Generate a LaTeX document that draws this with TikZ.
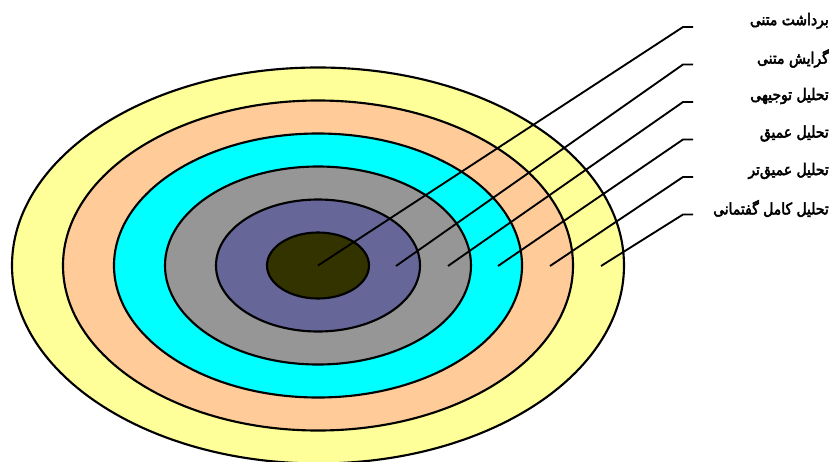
\documentclass[tikz,border=0pt]{standalone}
\usepackage{fontspec}
\newfontfamily\arabicfont[Script=Arabic, FakeStretch=0.87, FakeBold=3]{DejaVu Sans}
\TeXXeTstate=1
\definecolor{ringyellow}{HTML}{FFFF99}
\definecolor{ringpeach}{HTML}{FFCC99}
\definecolor{ringcyan}{HTML}{00FFFF}
\definecolor{ringgrey}{HTML}{969696}
\definecolor{ringpurple}{HTML}{666699}
\definecolor{ringdark}{HTML}{333300}
\tikzset{
  ring/.style={draw=black, line width=1.6pt},
  pointer/.style={draw=black, line width=1.4pt},
  layerlabel/.style={anchor=east, inner sep=0pt, font=\arabicfont\fontsize{12}{14}\selectfont}
}
\begin{document}
\begin{tikzpicture}[x=0.75pt, y=-0.75pt]
\useasboundingbox (0,0) rectangle (832,461);
\clip (0,0) rectangle (832,461);

\coordinate (c) at (318,265.5);
\fill[ring, fill=ringyellow] (c) ellipse [x radius=229.5pt, y radius=148.5pt];
\fill[ring, fill=ringpeach] (c) ellipse [x radius=191.25pt, y radius=123.75pt];
\fill[ring, fill=ringcyan] (c) ellipse [x radius=153pt, y radius=99pt];
\fill[ring, fill=ringgrey] (c) ellipse [x radius=114.75pt, y radius=74.25pt];
\fill[ring, fill=ringpurple] (c) ellipse [x radius=76.5pt, y radius=49.5pt];
\fill[ring, fill=ringdark] (c) ellipse [x radius=38.25pt, y radius=24.75pt];

\coordinate (p1) at (318,265.5);
\coordinate (p2) at (396,266);
\coordinate (p3) at (448,266);
\coordinate (p4) at (498,266);
\coordinate (p5) at (550,266);
\coordinate (p6) at (601,266);

\coordinate (k1) at (683,27);
\coordinate (k2) at (683,64.5);
\coordinate (k3) at (683,102);
\coordinate (k4) at (683,139.5);
\coordinate (k5) at (683,177);
\coordinate (k6) at (683,214.5);

\coordinate (e1) at (693,27);
\coordinate (e2) at (693,64.5);
\coordinate (e3) at (693,102);
\coordinate (e4) at (693,139.5);
\coordinate (e5) at (693,177);
\coordinate (e6) at (693,214.5);

\draw[pointer] (p1) -- (k1) -- (e1);
\draw[pointer] (p2) -- (k2) -- (e2);
\draw[pointer] (p3) -- (k3) -- (e3);
\draw[pointer] (p4) -- (k4) -- (e4);
\draw[pointer] (p5) -- (k5) -- (e5);
\draw[pointer] (p6) -- (k6) -- (e6);

\node[layerlabel] (l1) at (829,21) {\beginR برداشت متنی\endR};
\node[layerlabel] (l2) at (829,58.5) {\beginR گرایش متنی\endR};
\node[layerlabel] (l3) at (829,96) {\beginR تحلیل توجیهی\endR};
\node[layerlabel] (l4) at (829,133.5) {\beginR تحلیل عمیق\endR};
\node[layerlabel] (l5) at (829,171) {\beginR تحلیل عمیق‌تر\endR};
\node[layerlabel] (l6) at (829,208.5) {\beginR تحلیل کامل گفتمانی\endR};
\end{tikzpicture}
\end{document}
